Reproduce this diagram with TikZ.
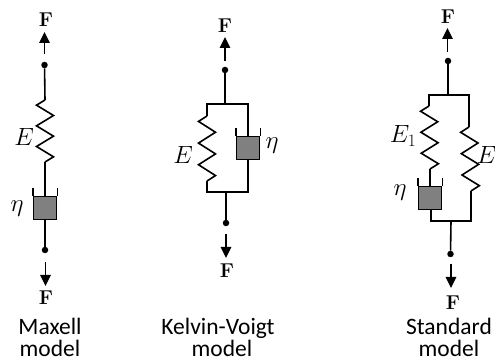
\documentclass[tikz,border=0pt]{standalone}
\usepackage{fontspec}
\setsansfont{Carlito}
\usetikzlibrary{calc,arrows.meta}
\tikzset{
  wire/.style={line width=1.6pt,black,line join=miter},
  force/.style={line width=1.6pt,black,-{Triangle[length=11pt,width=10.5pt]}},
  dot/.style={circle,fill=black,inner sep=0pt,minimum size=6.5pt},
  damper/.style={rectangle,draw=black,line width=1.6pt,fill=black!50,inner sep=0pt,minimum width=23pt,minimum height=23pt},
  forcelabel/.style={inner sep=0pt,font=\fontsize{20}{20}\selectfont\bfseries},
  sym/.style={inner sep=0pt,font=\fontsize{25}{25}\selectfont},
  caption/.style={inner sep=0pt,anchor=base,font=\fontsize{23.5}{23.5}\selectfont\sffamily}
}
\newcommand{\Spring}[3]{%
  \draw[wire] (#1) -- ($(#1)!0.0833!(#2)+(-#3,0)$) -- ($(#1)!0.25!(#2)+(#3,0)$)
   -- ($(#1)!0.4167!(#2)+(-#3,0)$) -- ($(#1)!0.5833!(#2)+(#3,0)$)
   -- ($(#1)!0.75!(#2)+(-#3,0)$) -- ($(#1)!0.9167!(#2)+(#3,0)$) -- (#2);}
\newcommand{\Walls}[1]{%
  \draw[wire] (#1.north west) -- ++(0,-8);
  \draw[wire] (#1.north east) -- ++(0,-8);}
\begin{document}
\begin{tikzpicture}[x=1pt,y=-1pt]
\useasboundingbox (0,0) rectangle (495,363);
\fill[white] (0,0) rectangle (495,363);
% Maxell
\node[forcelabel] (mF1) at (46,20) {F};
\node[forcelabel] (mF2) at (46,298) {F};
\node[dot] (mT) at (44.5,65) {};
\node[dot] (mB) at (45,250) {};
\coordinate (mA1) at (44.5,54); \coordinate (mA2) at (44.5,32);
\coordinate (mA3) at (45.5,262); \coordinate (mA4) at (45.5,286);
\coordinate (mS1) at (45,100); \coordinate (mS2) at (45,162);
\node[damper] (mD) at (45,208) {};
\draw[force] (mA1) -- (mA2);
\draw[force] (mA3) -- (mA4);
\draw[wire] (mT) -- (mS1);
\Spring{mS1}{mS2}{8.5}
\draw[wire] (mS2) -- (mD.north);
\Walls{mD}
\draw[wire] (mD.south) -- (mB);
\node[sym] (mE) at (24,137) {$E$};
\node[sym] (mEta) at (17,209) {$\eta$};
\node[caption] (mC1) at (50,334) {Maxell};
\node[caption] (mC2) at (50,356) {model};
% Kelvin-Voigt
\node[forcelabel] (kF1) at (225,26) {F};
\node[forcelabel] (kF2) at (227,271) {F};
\node[dot] (kT) at (225,70) {};
\node[dot] (kB) at (226,223) {};
\coordinate (kA1) at (225,61); \coordinate (kA2) at (225,37);
\coordinate (kA3) at (226,234); \coordinate (kA4) at (226,258);
\coordinate (kTm) at (225,104); \coordinate (kTl) at (207,104); \coordinate (kTr) at (248,104);
\coordinate (kBm) at (226,192); \coordinate (kBl) at (207,192); \coordinate (kBr) at (248,192);
\coordinate (kS1) at (207,116); \coordinate (kS2) at (207,181);
\node[damper] (kD) at (248,148) {};
\draw[force] (kA1) -- (kA2);
\draw[force] (kA3) -- (kA4);
\draw[wire] (kT) -- (kTm);
\draw[wire] (kS1) -- (kTl) -- (kTr) -- (kD.north);
\Spring{kS1}{kS2}{8.5}
\draw[wire] (kS2) -- (kBl) -- (kBr) -- (kD.south);
\Walls{kD}
\draw[wire] (kBm) -- (kB);
\node[sym] (kE) at (183,155) {$E$};
\node[sym] (kEta) at (272,146) {$\eta$};
\node[caption] (kC1) at (218,334) {Kelvin-Voigt};
\node[caption] (kC2) at (222,356) {model};
% Standard
\node[forcelabel] (sF1) at (448,17) {F};
\node[forcelabel] (sF2) at (453,303) {F};
\node[dot] (sT) at (448,61) {};
\node[dot] (sB) at (450.5,254) {};
\coordinate (sA1) at (447.5,52); \coordinate (sA2) at (447.5,28);
\coordinate (sA3) at (451,264); \coordinate (sA4) at (451,288);
\coordinate (sTm) at (448,95); \coordinate (sTl) at (429,95); \coordinate (sTr) at (469,95);
\coordinate (sBm) at (451,221); \coordinate (sBl) at (431,221); \coordinate (sBr) at (471,221);
\coordinate (sS1) at (429,106); \coordinate (sS2) at (430,169);
\coordinate (sR1) at (469,127); \coordinate (sR2) at (471,191);
\node[damper] (sD) at (430,198) {};
\draw[force] (sA1) -- (sA2);
\draw[force] (sA3) -- (sA4);
\draw[wire] (sT) -- (sTm);
\draw[wire] (sS1) -- (sTl) -- (sTr) -- (sR1);
\Spring{sS1}{sS2}{8.5}
\Spring{sR1}{sR2}{8.5}
\draw[wire] (sS2) -- (sD.north);
\Walls{sD}
\draw[wire] (sD.south -| sBl) -- (sBl) -- (sBr) -- (sR2);
\draw[wire] (sBm) -- (sB);
\node[sym] (sE1) at (403,136) {$E_1$};
\node[sym] (sEta) at (400,193) {$\eta$};
\node[sym] (sE) at (486.5,155) {$E$};
\node[caption] (sC1) at (449,334) {Standard};
\node[caption] (sC2) at (449,356) {model};
\end{tikzpicture}
\end{document}
